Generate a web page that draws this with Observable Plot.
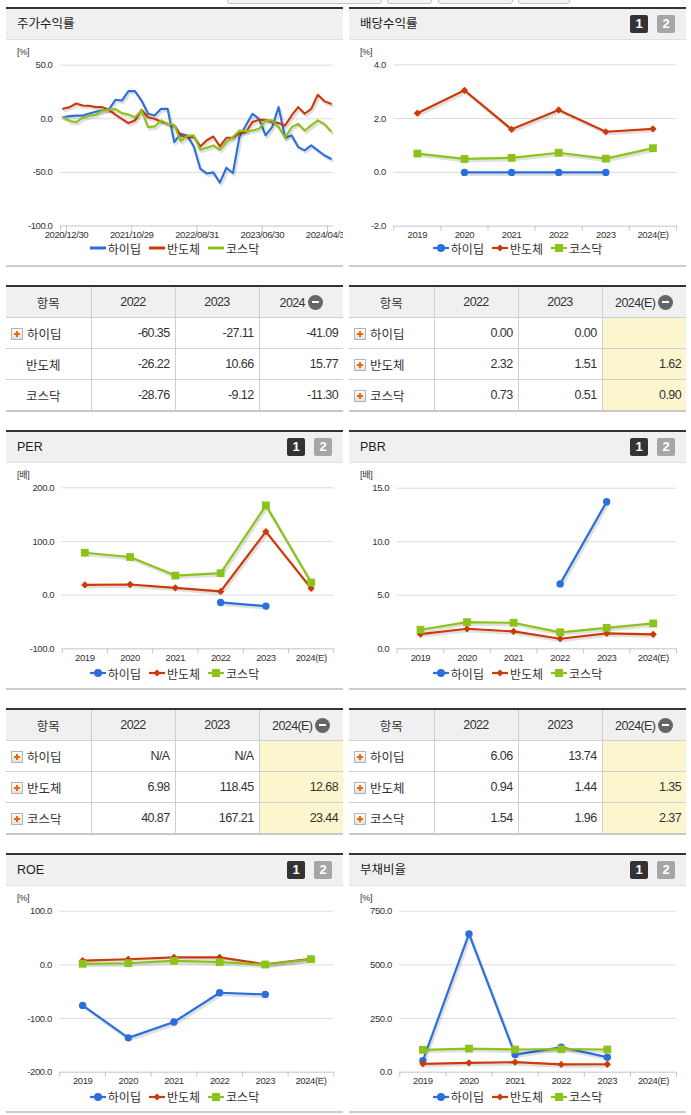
<!DOCTYPE html>
<html lang="ko"><head><meta charset="utf-8">
<script src="https://cdn.jsdelivr.net/npm/d3@7"></script>
<script src="https://cdn.jsdelivr.net/npm/@observablehq/plot@0.6"></script>
<style>
html,body{margin:0;padding:0;background:#fff}
#page{position:relative;width:691px;height:1115px;overflow:hidden;font-family:"Liberation Sans","Noto Sans CJK KR",sans-serif;color:#333}
.abs{position:absolute}
.tab{position:absolute;top:-10px;height:12px;border:1px solid #c4c4c4;border-radius:3px;background:#f4f4f4}
.hdr{position:absolute;width:337px;height:30px;background:#f0f0f0;border-top:2px solid #333;border-bottom:1px solid #e0e0e0}
.hdr .t{position:absolute;left:11px;top:0;line-height:30px;font-size:12.5px;color:#222}
.btn{position:absolute;top:6px;width:18px;height:18px;border-radius:2px;color:#fff;font:bold 13px/18px "Liberation Sans",sans-serif;text-align:center}
.b1{left:281px;background:#333}
.b2{left:308px;background:#a6a6a6}
.pbot{position:absolute;width:337px;height:2px;background:#cccccc}
.unit{position:absolute;font-size:9px;letter-spacing:-0.3px;font-family:"Liberation Sans","Noto Sans CJK KR",sans-serif;color:#333;line-height:12px}
.legend{position:absolute;width:337px;height:18px;display:flex;justify-content:center;align-items:center;font-family:"Noto Sans CJK KR",sans-serif;font-size:12px;color:#333}
.legend .li{display:flex;align-items:center;margin:0 4px}
.legend svg{margin-right:2px}
table.t{position:absolute;width:337px;border-collapse:collapse;table-layout:fixed;border-top:2px solid #333;border-bottom:2px solid #c8c8c8}
table.t th{background:#f0f0f0;height:30px;padding:0;font-weight:normal;border-left:1px solid #cfcfcf;font-family:"Liberation Sans",sans-serif;font-size:12.5px;letter-spacing:-0.6px;color:#333;text-align:center}
table.t th.k{font-family:"Noto Sans CJK KR",sans-serif;font-size:12.5px;letter-spacing:0}
table.t td{height:30px;padding:0 5px;border-top:1px solid #cfcfcf;border-left:1px solid #cfcfcf;text-align:right;font-family:"Liberation Sans",sans-serif;font-size:12.5px;letter-spacing:-0.6px;color:#333}
table.t th:first-child,table.t td:first-child{border-left:none}
table.t td.nm{text-align:left;padding-left:5px;font-family:"Noto Sans CJK KR",sans-serif;font-size:12.5px;letter-spacing:0}
table.t td.y{background:#fcf6cf}
.pl{display:inline-block;width:10px;height:10px;border:1px solid #b3b3b3;vertical-align:-1px;margin-right:4px;
 background:linear-gradient(#f26500,#f26500) center/6px 2px no-repeat,linear-gradient(#f26500,#f26500) center/2px 6px no-repeat,linear-gradient(#ffffff,#e2e2e2)}
.sp{display:inline-block;width:15px;margin-right:0}
.mi{display:inline-block;width:15px;height:15px;border-radius:50%;background:#666 linear-gradient(#fff,#fff) center/7px 2px no-repeat;vertical-align:-3px;margin-left:3px}
</style></head><body><div id="page"></div>
<script>
// ---------- data ----------
const seriesNames = ["하이딥", "반도체", "코스닥"];
const colors = ["#2b6fdc", "#cc3a0a", "#8cc31a"];
const years = ["2019", "2020", "2021", "2022", "2023", "2024(E)"];

// 주가수익률 (monthly)
const returnTickLabels = ["2020/12/30", "2021/10/29", "2022/08/31", "2023/06/30", "2024/04/30"];
const returnHidip = [1.5, 2.5, 3, 3, 5, 6.5, 8, 8.5, 17.7, 17, 25.8, 25.8, 17, 4.7, 3, 9.3, 9.3, -21.7, -14, -15.5, -25.8, -46.6, -51, -50, -59.6, -45.7, -50.6, -17, -6, 4.7, 0, -15.5, -7.8, 10.9, -17.7, -15.5, -26.4, -29.5, -24.8, -29.5, -34, -37.3];
const returnSemi = [9.3, 10.9, 14.3, 12.4, 12.1, 10.9, 10.9, 8.4, 4, 0, -4, -1.5, 8.4, 1.5, 0, -2.5, -4.7, -6.2, -15.5, -17, -17, -25.8, -20, -16.5, -25.8, -17.7, -17.7, -13.4, -12.4, -3, -1, -1, -3, -4, -6.2, 3.1, 10.9, 4.7, 9.3, 22.4, 16.5, 14];
const returnKosdaq = [1.5, -2, -3.1, 1, 3.1, 3.7, 7.8, 8.4, 9, 5.3, 4, 1.5, 7.8, -7.8, -7.1, -1.5, -4.7, -5.6, -20.8, -15.8, -15.5, -28.9, -27, -24.8, -28.9, -21.7, -17, -10.9, -11.5, -10.9, -9.3, -1.5, -1.5, -7.8, -17.7, -7.8, -4.7, -10.9, -6.2, -1.5, -4.7, -11.5];

// 배당수익률
const divHidip = [null, 0, 0, 0, 0, null];
const divSemi = [2.2, 3.05, 1.6, 2.32, 1.51, 1.62];
const divKosdaq = [0.7, 0.5, 0.54, 0.73, 0.51, 0.90];
// PER
const perHidip = [null, null, null, -13.6, -20.4, null];
const perSemi = [19, 19.8, 13.6, 6.98, 118.45, 12.68];
const perKosdaq = [79, 71, 36.4, 40.87, 167.21, 23.44];
// PBR
const pbrHidip = [null, null, null, 6.06, 13.74, null];
const pbrSemi = [1.37, 1.87, 1.62, 0.94, 1.44, 1.35];
const pbrKosdaq = [1.78, 2.49, 2.43, 1.54, 1.96, 2.37];
// ROE
const roeHidip = [-75.5, -136, -106.5, -52, -55, null];
const roeSemi = [8, 10.5, 14, 14, 1.2, 11];
const roeKosdaq = [2, 3, 7.4, 5, 0.6, 10.5];
// 부채비율
const debtHidip = [54, 644, 82, 116, 70, null];
const debtSemi = [39, 43.5, 46.6, 36, 37, null];
const debtKosdaq = [104, 110, 105.6, 107, 105.6, null];

// tables
const tblYears = ["2022", "2023", "2024"];
const tblYearsE = ["2022", "2023", "2024(E)"];
const tblReturnHidip = [-60.35, -27.11, -41.09];
const tblReturnSemi = [-26.22, 10.66, 15.77];
const tblReturnKosdaq = [-28.76, -9.12, -11.30];
const tblDivHidip = [0.00, 0.00, null];
const tblDivSemi = [2.32, 1.51, 1.62];
const tblDivKosdaq = [0.73, 0.51, 0.90];
const tblPerHidip = ["N/A", "N/A", null];
const tblPerSemi = [6.98, 118.45, 12.68];
const tblPerKosdaq = [40.87, 167.21, 23.44];
const tblPbrHidip = [6.06, 13.74, null];
const tblPbrSemi = [0.94, 1.44, 1.35];
const tblPbrKosdaq = [1.54, 1.96, 2.37];

// ---------- helpers ----------
const page = document.getElementById("page");
function el(tag, cls, style, parent) {
  const e = document.createElement(tag);
  if (cls) e.className = cls;
  if (style) Object.assign(e.style, style);
  (parent || page).appendChild(e);
  return e;
}
const px = v => v + "px";
const AXIS = "#b9c8da";
const NUMFONT = '"Liberation Sans",sans-serif';
const diamond = {draw(ctx, size) { const r = Math.sqrt(size / 2); ctx.moveTo(0, -r); ctx.lineTo(r, 0); ctx.lineTo(0, r); ctx.lineTo(-r, 0); ctx.closePath(); }};
const symbols = ["circle", diamond, "square"];
const radii = [3.7, 2.9, 4.4];

// tabs at top edge
[[227, 153], [387, 43], [438, 73], [518, 50]].forEach(([l, w]) => el("div", "tab", {left: px(l), width: px(w)}));

function header(left, top, title, btns) {
  const h = el("div", "hdr", {left: px(left), top: px(top)});
  const t = el("span", "t", null, h); t.textContent = title;
  if (btns) {
    const a = el("span", "btn b1", null, h); a.textContent = "1";
    const b = el("span", "btn b2", null, h); b.textContent = "2";
  }
}
function bottom(left, top) { el("div", "pbot", {left: px(left), top: px(top)}); }
function unit(left, cy, text) { const u = el("div", "unit", {left: px(left), top: px(cy - 6)}); u.textContent = text; }
function legend(left, cy, markers) {
  const d = el("div", "legend", {left: px(left), top: px(cy - 9)});
  seriesNames.forEach((n, k) => {
    const item = el("span", "li", null, d);
    const c = colors[k];
    let m = "";
    if (markers) {
      if (k === 0) m = `<circle cx="8" cy="6" r="4" fill="${c}"/>`;
      if (k === 1) m = `<path d="M8 2.5L11.5 6L8 9.5L4.5 6Z" fill="${c}"/>`;
      if (k === 2) m = `<rect x="4" y="2" width="8" height="8" fill="${c}"/>`;
    }
    item.innerHTML = `<svg width="16" height="12"><line x1="0" y1="6" x2="16" y2="6" stroke="${c}" stroke-width="${markers ? 2.2 : 3}"/>${m}</svg>`;
    const s = el("span", null, null, item); s.textContent = n;
  });
}
function place(svg, left, top) {
  const w = el("div", "abs", {left: px(left), top: px(top), width: "337px", overflow: "hidden"});
  w.appendChild(svg);
}
const plotStyle = {fontFamily: NUMFONT, fontSize: "9.5px", letterSpacing: "-0.4px", color: "#333", background: "transparent"};

function seriesMarks(rows, k, withDots) {
  const d = rows.filter(r => r.k === k);
  const m = [
    Plot.line(d, {x: "x", y: "y", stroke: "#000", strokeOpacity: 0.12, strokeWidth: 3, dx: 1.5, dy: 2}),
    Plot.line(d, {x: "x", y: "y", stroke: colors[k], strokeWidth: withDots ? 2.2 : 2.1})
  ];
  if (withDots) m.push(Plot.dot(d, {x: "x", y: "y", symbol: symbols[k], r: radii[k], fill: colors[k]}));
  return m;
}

function catChart(cfg) {
  const {left, svgTop, plotTop, plotBottom, plotLeft, plotRight, domain, ticks, series} = cfg;
  const W = 337, MB = 22;
  const rows = [];
  series.forEach((arr, k) => arr.forEach((v, i) => rows.push({x: i + 0.5, y: v, k})));
  const marks = [
    Plot.gridY(ticks.filter(t => t !== domain[0]), {stroke: "#dcdcdc", strokeOpacity: 1}),
    Plot.ruleY([domain[0]], {stroke: AXIS}),
    Plot.axisY(ticks, {tickSize: 0, tickPadding: 8, tickFormat: d => d.toFixed(1), fill: "#333", label: null}),
    Plot.axisX(d3.range(7), {tickSize: 5, tickFormat: () => "", stroke: AXIS, label: null}),
    Plot.axisX(d3.range(6).map(i => i + 0.5), {tickSize: 0, tickPadding: 5, tickFormat: d => years[Math.floor(d)], fill: "#333", label: null})
  ];
  series.forEach((_, k) => marks.push(...seriesMarks(rows, k, true)));
  const svg = Plot.plot({
    width: W, height: plotBottom + MB - svgTop,
    marginTop: plotTop - svgTop, marginBottom: MB,
    marginLeft: plotLeft - left, marginRight: left + W - plotRight,
    x: {type: "linear", domain: [0, 6]}, y: {domain},
    style: plotStyle, marks
  });
  place(svg, left, svgTop);
}

function table(left, top, cols, rows, iconRows, shadeLast) {
  const t = el("table", "t", {left: px(left), top: px(top)});
  const cg = el("colgroup", null, null, t);
  [85, 84, 84, 84].forEach(w => el("col", null, {width: px(w)}, cg));
  const hr = el("tr", null, null, t);
  const h0 = el("th", "k", null, hr); h0.textContent = "항목";
  cols.forEach((c, i) => {
    const th = el("th", null, null, hr);
    const s = el("span", null, null, th); s.textContent = c;
    if (i === 2) el("span", "mi", null, th);
  });
  rows.forEach((r, ri) => {
    const tr = el("tr", null, null, t);
    const td = el("td", "nm", null, tr);
    el("span", iconRows[ri] ? "pl" : "sp", null, td);
    const s = el("span", null, null, td); s.textContent = seriesNames[ri];
    r.forEach((v, i) => {
      const c = el("td", (shadeLast && i === 2) ? "y" : null, null, tr);
      c.textContent = v == null ? "" : (typeof v === "number" ? v.toFixed(2) : v);
    });
  });
}

// ---------- row 1 ----------
header(6, 7, "주가수익률", false);
header(349, 7, "배당수익률", true);
{
  const left = 6, svgTop = 40, plotTop = 64.7, plotBottom = 225.5, plotLeft = 60, plotRight = 333, W = 337, MB = 22;
  const N = returnHidip.length;
  const rows = [];
  [returnHidip, returnSemi, returnKosdaq].forEach((arr, k) => arr.forEach((v, i) => rows.push({x: i, y: v, k})));
  const lo = -0.41, hi = N - 1 + 0.41;
  const tickPos = returnTickLabels.map((_, i) => i * 10 + 0.5);
  const yt = [-100, -50, 0, 50];
  const marks = [
    Plot.gridY([-50, 0, 50], {stroke: "#dcdcdc", strokeOpacity: 1}),
    Plot.ruleY([-100], {stroke: AXIS}),
    Plot.axisY(yt, {tickSize: 0, tickPadding: 8, tickFormat: d => d.toFixed(1), fill: "#333", label: null}),
    Plot.axisX([lo, ...tickPos], {tickSize: 5, tickFormat: () => "", stroke: AXIS, label: null}),
    Plot.axisX(tickPos, {tickSize: 0, tickPadding: 5, tickFormat: d => returnTickLabels[Math.round((d - 0.5) / 10)], fill: "#333", label: null})
  ];
  [0, 1, 2].forEach(k => marks.push(...seriesMarks(rows, k, false)));
  const svg = Plot.plot({
    width: W, height: plotBottom + MB - svgTop,
    marginTop: plotTop - svgTop, marginBottom: MB,
    marginLeft: plotLeft - left, marginRight: left + W - plotRight,
    x: {type: "linear", domain: [lo, hi]}, y: {domain: [-100, 50]},
    style: plotStyle, marks
  });
  place(svg, left, svgTop);
}
catChart({left: 349, svgTop: 40, plotTop: 64.3, plotBottom: 225.7, plotLeft: 393.3, plotRight: 676,
  domain: [-2, 4], ticks: [-2, 0, 2, 4], series: [divHidip, divSemi, divKosdaq]});
unit(17, 52, "[%]"); unit(360, 52, "[%]");
legend(6, 248, false); legend(349, 248, true);
bottom(6, 265); bottom(349, 265);

// tables 1
table(6, 285, tblYears, [tblReturnHidip, tblReturnSemi, tblReturnKosdaq], [true, false, false], false);
table(349, 285, tblYearsE, [tblDivHidip, tblDivSemi, tblDivKosdaq], [true, true, true], true);

// ---------- row 2 ----------
header(6, 430, "PER", true);
header(349, 430, "PBR", true);
catChart({left: 6, svgTop: 463, plotTop: 487.3, plotBottom: 648.3, plotLeft: 61.7, plotRight: 333.3,
  domain: [-100, 200], ticks: [-100, 0, 100, 200], series: [perHidip, perSemi, perKosdaq]});
catChart({left: 349, svgTop: 463, plotTop: 487.7, plotBottom: 648.3, plotLeft: 396.7, plotRight: 676,
  domain: [0, 15], ticks: [0, 5, 10, 15], series: [pbrHidip, pbrSemi, pbrKosdaq]});
unit(17, 475, "[배]"); unit(360, 475, "[배]");
legend(6, 673, true); legend(349, 673, true);
bottom(6, 688); bottom(349, 688);

// tables 2
table(6, 708, tblYearsE, [tblPerHidip, tblPerSemi, tblPerKosdaq], [true, true, true], true);
table(349, 708, tblYearsE, [tblPbrHidip, tblPbrSemi, tblPbrKosdaq], [true, true, true], true);

// ---------- row 3 ----------
header(6, 853, "ROE", true);
header(349, 853, "부채비율", true);
catChart({left: 6, svgTop: 886, plotTop: 910.7, plotBottom: 1071.7, plotLeft: 59.3, plotRight: 333.3,
  domain: [-200, 100], ticks: [-200, -100, 0, 100], series: [roeHidip, roeSemi, roeKosdaq]});
catChart({left: 349, svgTop: 886, plotTop: 910.7, plotBottom: 1071.7, plotLeft: 399.3, plotRight: 676,
  domain: [0, 750], ticks: [0, 250, 500, 750], series: [debtHidip, debtSemi, debtKosdaq]});
unit(17, 898, "[%]"); unit(360, 898, "[%]");
legend(6, 1096.7, true); legend(349, 1096.7, true);
bottom(6, 1111); bottom(349, 1111);
</script></body></html>
